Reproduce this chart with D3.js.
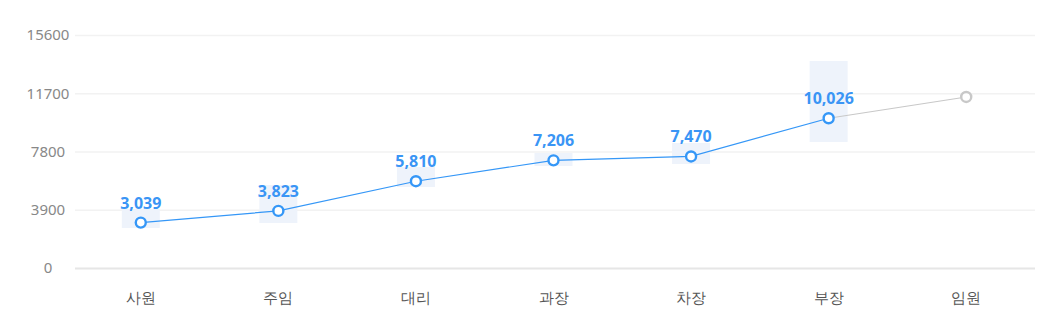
<!DOCTYPE html>
<html>
<head>
<meta charset="utf-8">
<script src="https://cdn.jsdelivr.net/npm/d3@7/dist/d3.min.js"></script>
<style>
  html, body { margin: 0; padding: 0; background: #fff; }
  svg { display: block; font-family: "Noto Sans CJK KR", "Noto Sans", sans-serif; }
</style>
</head>
<body>
<svg id="chart" width="1050" height="331"></svg>
<script>
// Job grades and average salary by grade (last grade has no label / range)
const grades = ["사원", "주임", "대리", "과장", "차장", "부장", "임원"];
const salary = [3039, 3823, 5810, 7206, 7470, 10026, 11450];
// Salary spread per grade (low / high), none for 임원
const rangeLow  = [2680, 3010, 5420, 6830, 6960, 8440, null];
const rangeHigh = [3950, 5560, 6760, 7700, 8370, 13860, null];
const yTicks = [0, 3900, 7800, 11700, 15600];

const svg = d3.select("#chart");
const x = d3.scaleBand().domain(grades).range([72, 1035]);
const y = d3.scaleLinear().domain([0, 15600]).range([268, 35]);
const cx = g => x(g) + x.bandwidth() / 2;

// horizontal grid
svg.append("g").selectAll("line").data(yTicks).join("line")
  .attr("x1", 75).attr("x2", 1035)
  .attr("y1", d => y(d) + 0.5).attr("y2", d => y(d) + 0.5)
  .attr("stroke", d => d === 0 ? "#e6e6e6" : "#f2f2f2")
  .attr("stroke-width", d => d === 0 ? 2 : 1.5);

// y axis labels, centred in the left gutter
const yAxis = svg.append("g").attr("transform", "translate(48,0)")
  .call(d3.axisLeft(y).tickValues(yTicks).tickSize(0).tickPadding(0).tickFormat(d3.format("d")));
yAxis.select(".domain").remove();
yAxis.selectAll("text").attr("fill", "#888").attr("font-size", 15)
  .attr("text-anchor", "middle")
  .attr("font-family", "'Noto Sans', sans-serif");

// x axis labels
const xAxis = svg.append("g").attr("transform", "translate(0,286)")
  .call(d3.axisBottom(x).tickSize(0).tickPadding(6));
xAxis.select(".domain").remove();
xAxis.selectAll("text").attr("fill", "#555").attr("font-size", 15);

// range boxes
const ranges = grades.map((g, i) => ({ g, lo: rangeLow[i], hi: rangeHigh[i] })).filter(d => d.lo != null);
svg.append("g").selectAll("rect").data(ranges).join("rect")
  .attr("x", d => cx(d.g) - 19).attr("width", 38)
  .attr("y", d => y(d.hi)).attr("height", d => y(d.lo) - y(d.hi))
  .attr("fill", "#eef3fb");

const pts = grades.map((g, i) => ({ g, v: salary[i], i }));
const line = d3.line().x(d => cx(d.g)).y(d => y(d.v));

// projected segment to 임원
svg.append("path").datum(pts.slice(5))
  .attr("d", line).attr("fill", "none").attr("stroke", "#c8c8c8").attr("stroke-width", 1.2);
// main line
svg.append("path").datum(pts.slice(0, 6))
  .attr("d", line).attr("fill", "none").attr("stroke", "#3597f7").attr("stroke-width", 1.2);

// markers
svg.append("g").selectAll("circle").data(pts).join("circle")
  .attr("cx", d => cx(d.g)).attr("cy", d => y(d.v)).attr("r", 5)
  .attr("fill", "#fff")
  .attr("stroke", d => d.i === 6 ? "#c8c8c8" : "#3597f7")
  .attr("stroke-width", 2.4);

// value labels
svg.append("g").selectAll("text").data(pts.slice(0, 6)).join("text")
  .attr("x", d => cx(d.g)).attr("y", d => y(d.v) - 14)
  .attr("text-anchor", "middle")
  .attr("fill", "#3a95f5").attr("font-size", 16).attr("font-weight", "bold")
  .attr("font-family", "'Open Sans', 'Noto Sans', sans-serif")
  .text(d => d3.format(",")(d.v));
</script>
</body>
</html>
